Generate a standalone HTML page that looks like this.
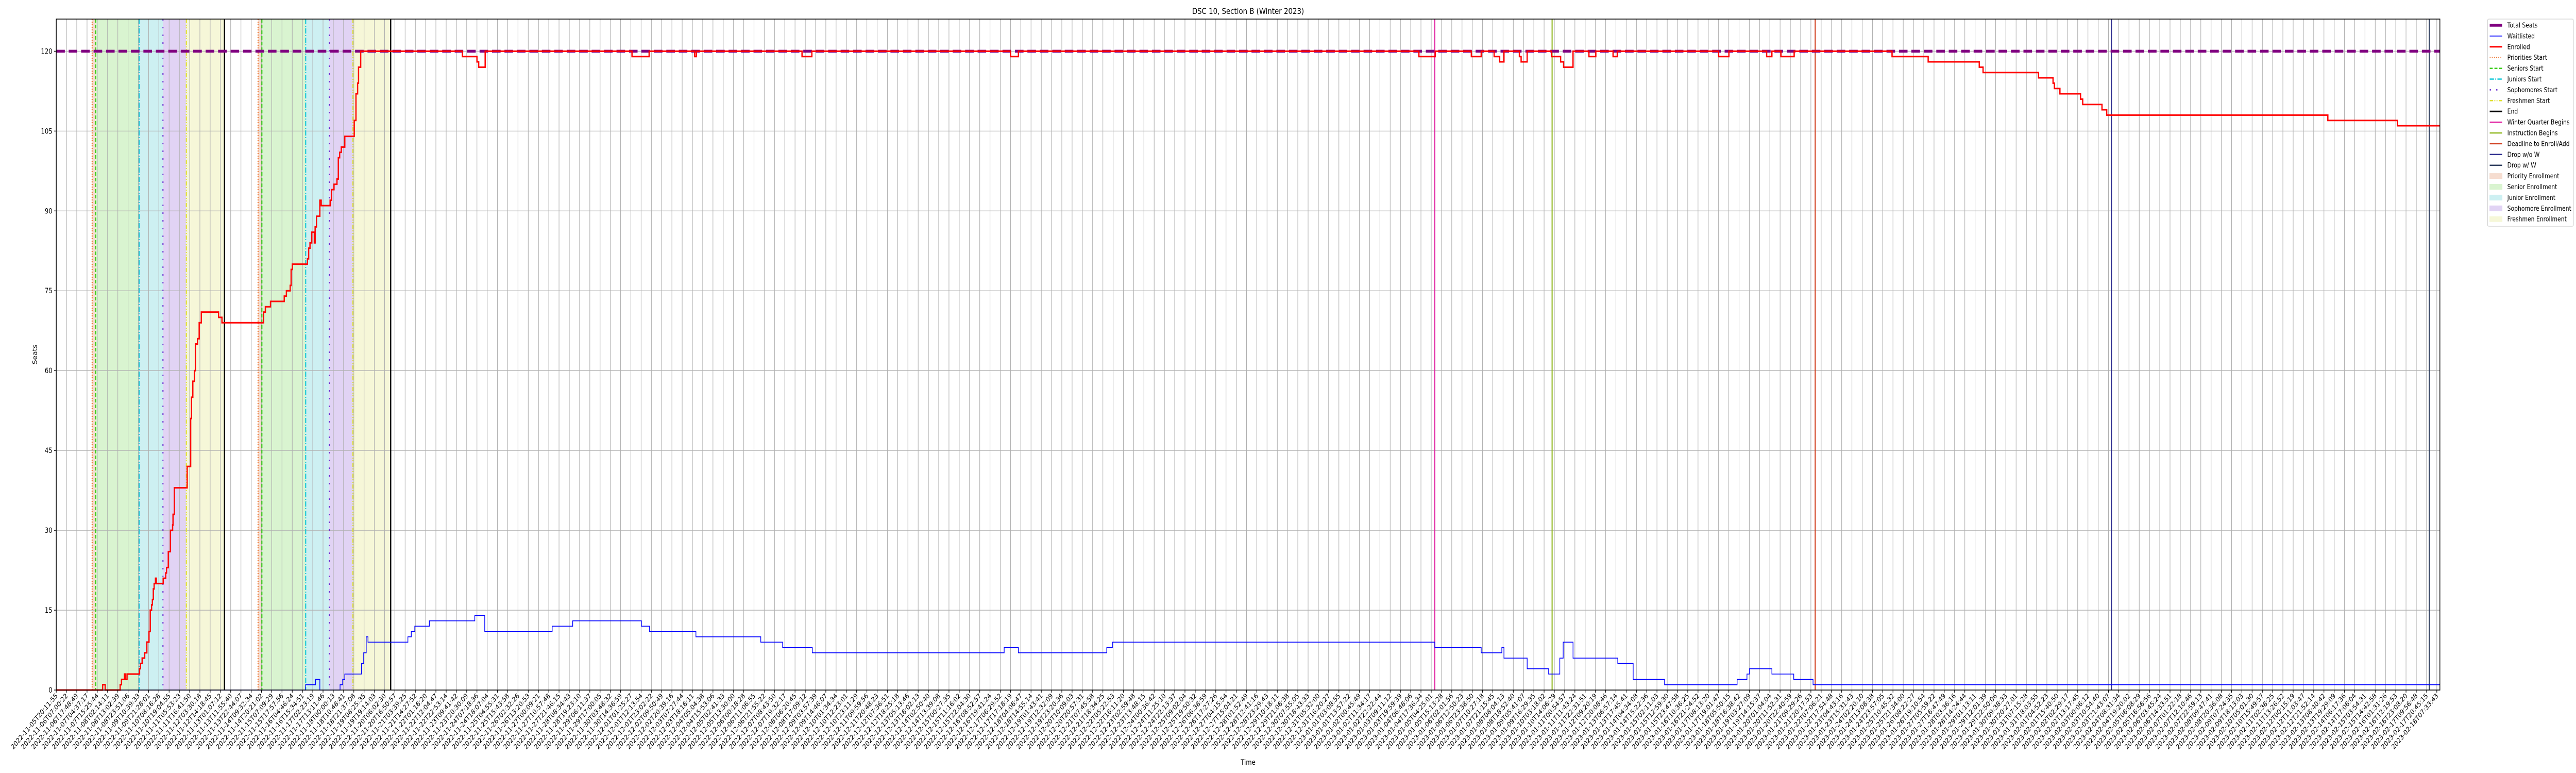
<!DOCTYPE html>
<html><head><meta charset="utf-8"><title>DSC 10, Section B (Winter 2023)</title>
<style>
html,body{margin:0;padding:0;background:#fff;width:100%;height:100%;overflow:hidden;}
svg{display:block;width:100vw;height:100vh;font-family:"DejaVu Sans","Liberation Sans",sans-serif;}
</style></head>
<body>
<svg id="chart" viewBox="0 0 6000 1500" preserveAspectRatio="none" xmlns="http://www.w3.org/2000/svg">
<rect width="6000" height="1500" fill="#fff"/>
<g id="spans"></g><g id="grid"></g><g id="events"></g><g id="series"></g><g id="axes"></g><g id="legend"></g>
<text x="2907" y="27" font-size="16" text-anchor="middle">DSC 10, Section B (Winter 2023)</text>
<text x="2907" y="1484" font-size="14" text-anchor="middle">Time</text>
<text x="0" y="0" font-size="14" text-anchor="middle" transform="translate(86,688) rotate(-90)">Seats</text>
</svg>
<script>
// ---- data (x in tick-index units, y in seats) ----
const totalSeats = 120;
const yTicks = [0, 15, 30, 45, 60, 75, 90, 105, 120];
const tickCount = 233;
const tickStart = "2022-11-05T20:11:55";
const tickEnd = "2023-02-18T07:33:43";
const enrolledT = [0,4.52,4.77,6.23,6.36,6.65,6.74,6.90,8.12,8.20,8.37,8.62,8.83,9.04,9.16,9.29,9.37,9.46,9.54,9.67,9.75,10.42,10.67,10.75,10.92,11.13,11.34,11.38,11.51,12.76,13.10,13.18,13.31,13.47,13.56,13.77,13.93,14.14,15.82,16.15,20.21,20.38,20.88,22.22,22.43,22.80,22.89,23.01,24.48,24.60,24.73,24.90,25.15,25.23,25.36,25.69,25.82,26.69,26.82,27.07,27.36,27.49,27.62,27.78,28.12,29.04,29.21,29.37,29.46,29.67,39.58,41.00,41.17,41.80,56.11,57.78,62.22,62.38,72.68,73.64,93.01,93.77,132.80,134.39,137.91,138.87,140.13,140.67,141.09,142.59,142.76,143.35,145.73,146.61,146.90,147.82,149.37,150.04,151.72,152.13,162.01,163.01,166.69,167.20,168.08,169.37,178.91,182.43,187.41,187.78,193.18,194.60,194.73,195.27,197.28,197.49,199.37,199.83,221.38,228.16];
const enrolledV = [0,1,0,1,2,3,2,3,4,5,6,7,9,11,15,16,17,19,20,21,20,21,22,23,26,30,31,33,38,42,51,55,58,60,65,66,69,71,70,69,71,72,73,74,75,76,79,80,81,83,84,86,84,87,89,92,91,92,94,95,96,100,101,102,104,107,112,114,117,120,119,118,117,120,119,120,119,120,119,120,119,120,119,120,119,120,119,118,120,119,118,120,119,118,117,120,119,120,119,120,119,120,119,120,119,120,119,118,117,116,115,114,113,112,111,110,109,108,107,106];
const waitT = [0,24.31,25.27,25.69,27.66,27.91,28.12,29.75,29.96,30.21,30.38,34.27,34.60,34.94,36.36,40.79,41.76,48.33,50.33,57.03,57.82,62.34,68.66,70.79,73.68,92.38,93.77,102.38,102.93,134.35,138.87,140.88,141.09,143.35,145.44,146.53,146.86,147.82,152.18,153.68,156.74,163.81,164.77,165.02,167.20,169.33,171.21];
const waitV = [0,1,2,0,1,2,3,5,7,10,9,10,11,12,13,14,11,12,13,12,11,10,9,8,7,8,7,8,9,8,7,8,6,4,3,6,9,6,5,2,1,2,3,4,3,2,1];
const spanNames = ["Priority Enrollment","Senior Enrollment","Junior Enrollment","Sophomore Enrollment","Freshmen Enrollment"];
const spanStart1 = [3.50,3.85,8.08,10.40,12.68];
const spanEnd1 = [3.85,8.08,10.40,12.68,16.40];
const spanStart2 = [19.67,20.04,24.31,26.61,28.91];
const spanEnd2 = [20.04,24.31,26.61,28.91,32.59];
const phaseNames = ["Priorities Start","Seniors Start","Juniors Start","Sophomores Start","Freshmen Start","End"];
const phaseT1 = [3.50,3.85,8.08,10.40,12.68,16.40];
const phaseT2 = [19.67,20.04,24.31,26.61,28.91,32.59];
const eventNames = ["Winter Quarter Begins","Instruction Begins","Deadline to Enroll/Add","Drop w/o W","Drop w/ W"];
const eventT = [134.35,145.78,171.42,200.29,231.27];
</script>
<script>
const NS="http://www.w3.org/2000/svg";
const L=131,R=5683,T=37,B=1339,TS=23.9,YS=10.33;
const xS=t=>L+t*TS, yS=v=>B-v*YS;
function mk(tag,attrs,parent){const e=document.createElementNS(NS,tag);for(const k in attrs)e.setAttribute(k,attrs[k]);parent.appendChild(e);return e;}
const G=id=>document.getElementById(id);
const spanColors=["#f6ddd0","#d9f4d0","#cdf0f2","#e1d3f4","#f6f7d8"];
const phaseColors=["#ee7733","#33cc11","#11c8d8","#6a2fd0","#e0e030","#000000"];
const phaseDash=["2,3","7,4","10,3,2,3","3,12","8,3,2,3,2,3",""];
const eventColors=["#e020a0","#90b820","#d04020","#303090","#304060"];

[spanStart1,spanStart2].forEach((starts,k)=>{const ends=k?spanEnd2:spanEnd1;
 starts.forEach((s,i)=>{const r=mk('rect',{x:xS(s),y:T,width:xS(ends[i])-xS(s),height:B-T,fill:spanColors[i]},G('spans'));
 
 });});

for(let i=0;i<tickCount;i++){const l=mk('line',{x1:xS(i),x2:xS(i),y1:T,y2:B,stroke:'#b0b0b0','stroke-width':1.3},G('grid'));
 
 }
yTicks.forEach(v=>{const l=mk('line',{x1:L,x2:R,y1:yS(v),y2:yS(v),stroke:'#b0b0b0','stroke-width':1.3},G('grid'));
 
 });

[phaseT1,phaseT2].forEach((arr,k)=>arr.forEach((t,i)=>{const a={x1:xS(t),x2:xS(t),y1:T,y2:B,stroke:phaseColors[i],'stroke-width':i==5?3:2.5};
 if(phaseDash[i])a['stroke-dasharray']=phaseDash[i];
 const l=mk('line',a,G('events'));
 
 }));
eventT.forEach((t,i)=>{const l=mk('line',{x1:xS(t),x2:xS(t),y1:T,y2:B,stroke:eventColors[i],'stroke-width':2.5},G('events'));
 
 });

function stepPath(ts,vs){let d='M'+xS(ts[0])+','+yS(vs[0]);for(let i=1;i<ts.length;i++){d+=' H'+xS(ts[i])+' V'+yS(vs[i]);}d+=' H'+R;return d;}
const tl=mk('line',{x1:L,x2:R,y1:yS(totalSeats),y2:yS(totalSeats),stroke:'#800080','stroke-width':5.5,'stroke-dasharray':'20,9'},G('series'));


const wl=mk('path',{d:stepPath(waitT,waitV),fill:'none',stroke:'#0000ff','stroke-width':1.6},G('series'));


const el=mk('path',{d:stepPath(enrolledT,enrolledV),fill:'none',stroke:'#ff0000','stroke-width':3},G('series'));



const ax=G('axes');
const sp=mk('rect',{x:L,y:T,width:R-L,height:B-T,fill:'none',stroke:'#000','stroke-width':1.6},ax);


yTicks.forEach(v=>{mk('line',{x1:L-5,x2:L,y1:yS(v),y2:yS(v),stroke:'#000','stroke-width':1.3},ax);
 const tx=mk('text',{x:L-9,y:yS(v)+5,'font-size':14,'text-anchor':'end'},ax);tx.textContent=v;
 
 });
const t0=new Date(tickStart+'Z').getTime(),t1=new Date(tickEnd+'Z').getTime();
const tickLabels=[];
for(let i=0;i<tickCount;i++){tickLabels.push(new Date(t0+(t1-t0)*i/(tickCount-1)).toISOString().slice(0,19));}
tickLabels.forEach((lab,i)=>{const x=xS(i);mk('line',{x1:x,x2:x,y1:B,y2:B+5,stroke:'#000','stroke-width':1.3},ax);
 const tx=mk('text',{x:0,y:0,'font-size':13.5,'text-anchor':'end',transform:`translate(${x+4},${B+12}) rotate(-45)`},ax);tx.textContent=lab;
 
 });

const lg=G('legend');
const box=mk('rect',{x:5794,y:37,width:200,height:402,rx:3,fill:'#fff',stroke:'#d0d0d0','stroke-width':1.3},lg);


const legendItems=[["Total Seats","line","#800080",5.5,""],["Waitlisted","line","#0000ff",1.6,""],["Enrolled","line","#ff0000",3,""]]
 .concat(phaseNames.map((n,i)=>[n,"line",phaseColors[i],i==5?3:2.5,phaseDash[i]]))
 .concat(eventNames.map((n,i)=>[n,"line",eventColors[i],2.5,""]))
 .concat(spanNames.map((n,i)=>[n,"patch",spanColors[i]]));
legendItems.forEach((it,i)=>{const y=49+i*20.9;
 const g=mk('g',{},lg);
 
 
 if(it[1]=='line'){const a={x1:5799,x2:5828,y1:y,y2:y,stroke:it[2],'stroke-width':it[3]};if(it[4])a['stroke-dasharray']=it[4];mk('line',a,g);}
 else mk('rect',{x:5799,y:y-5,width:29,height:10,fill:it[2],stroke:it[2]},g);
 const tx=mk('text',{x:5840,y:y+4.5,'font-size':13},g);tx.textContent=it[0];});
</script>
</body></html>
